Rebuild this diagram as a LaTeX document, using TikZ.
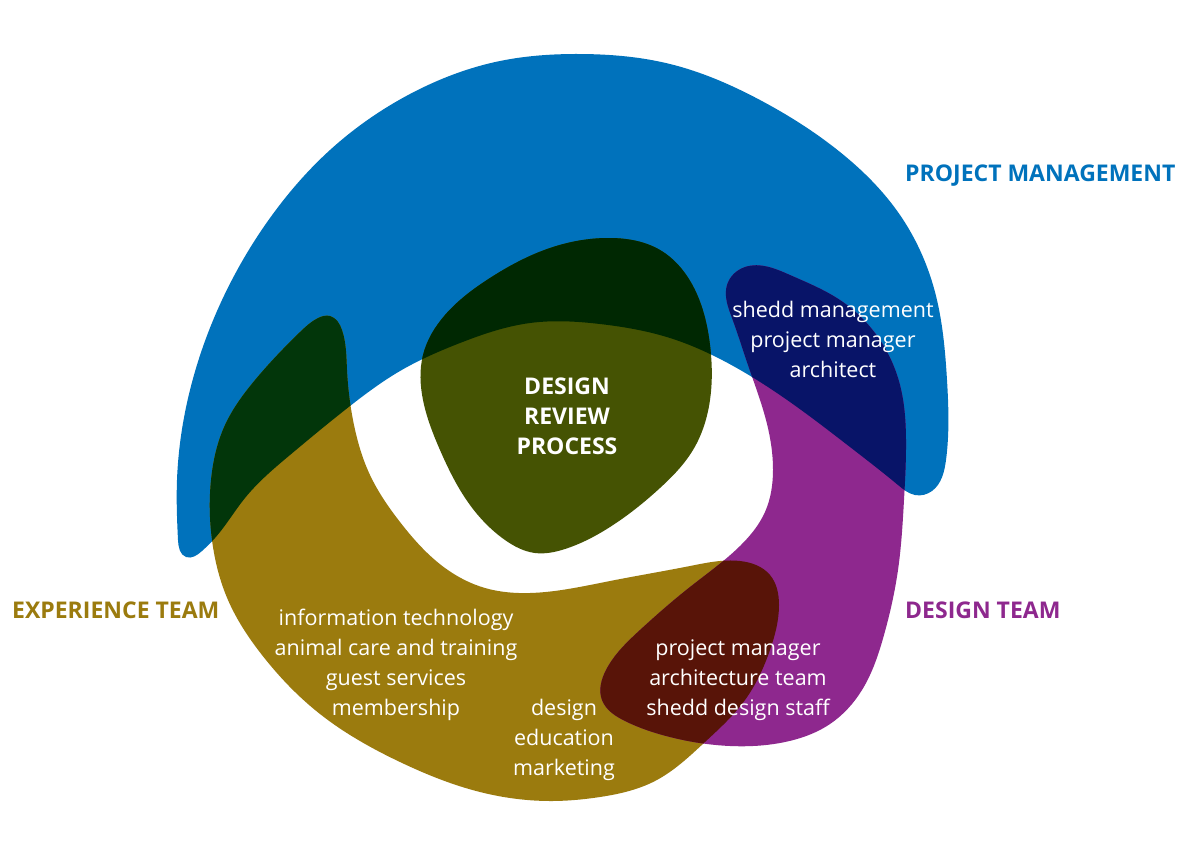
\documentclass[tikz,border=0pt]{standalone}
\usepackage{fontspec}
\setmainfont{Open Sans}
\usetikzlibrary{hobby}
\definecolor{pmblue}{RGB}{0,114,188}
\definecolor{exolive}{RGB}{155,123,14}
\definecolor{dspurple}{RGB}{142,40,142}
\definecolor{ctrgreen}{RGB}{69,83,3}
\definecolor{bcdark}{RGB}{0,40,2}
\definecolor{bodark}{RGB}{2,54,10}
\definecolor{bpnavy}{RGB}{8,20,104}
\definecolor{opred}{RGB}{88,20,8}
\tikzset{
  lbl/.style={font=\bfseries\fontsize{23}{30}\selectfont, inner sep=0pt},
  ctrtxt/.style={font=\bfseries\fontsize{23}{30}\selectfont, text=white, align=center, inner sep=0pt},
  bodytxt/.style={font=\fontsize{21.5}{30}\selectfont, text=white, align=center, inner sep=0pt},
  blob/.style={use Hobby shortcut, closed=true}
}
\begin{document}
\begin{tikzpicture}[x=1pt,y=-1pt]
\useasboundingbox (0,0) rectangle (1200,857);
\fill[white] (0,0) rectangle (1200,857);
\def\BlobB{(202,551) .. (186,557) .. (178,540) .. (177,480) .. (190,390) .. (222,300) .. (270,218) .. (330,150) .. (410,94) .. (500,61) .. (580,54) .. (670,64) .. (760,100) .. (840,152) .. (900,215) .. (935,292) .. (947,380) .. (946,460) .. (932,491) .. (915,495) .. (898,485) .. (850,447) .. (790,402) .. (735,367) .. (670,338) .. (600,324) .. (530,323) .. (460,343) .. (400,371) .. (350,406) .. (290,455) .. (245,498) .. (215,538)}
\def\BlobO{(330,316) .. (342,330) .. (347,370) .. (354,425) .. (370,475) .. (400,522) .. (445,568) .. (485,588) .. (530,593) .. (610,581) .. (690,566) .. (740,561) .. (770,575) .. (779,605) .. (770,650) .. (745,700) .. (705,742) .. (655,781) .. (600,797) .. (550,801) .. (480,792) .. (400,762) .. (320,714) .. (262,655) .. (228,600) .. (212,540) .. (211,480) .. (225,425) .. (255,380) .. (300,332) .. (318,318)}
\def\BlobP{(745,267) .. (790,275) .. (840,300) .. (880,340) .. (900,385) .. (906,440) .. (904,500) .. (898,570) .. (884,635) .. (862,690) .. (830,724) .. (785,742) .. (730,746) .. (670,737) .. (625,721) .. (602,700) .. (606,670) .. (640,630) .. (690,587) .. (740,546) .. (765,512) .. (773,470) .. (766,420) .. (748,365) .. (732,318) .. (727,285)}
\def\BlobC{(610,238) .. (660,250) .. (695,290) .. (710,345) .. (710,400) .. (693,450) .. (660,488) .. (610,527) .. (565,549) .. (535,553) .. (505,540) .. (470,505) .. (440,450) .. (423,400) .. (423,355) .. (445,315) .. (490,278) .. (550,248)}
\fill[pmblue, blob] \BlobB;
\fill[exolive, blob] \BlobO;
\fill[dspurple, blob] \BlobP;
\fill[ctrgreen, blob] \BlobC;
\begin{scope}
 \clip[blob] \BlobB;
 \fill[bodark, blob] \BlobO;
 \fill[bpnavy, blob] \BlobP;
 \fill[bcdark, blob] \BlobC;
\end{scope}
\begin{scope}
 \clip[blob] \BlobO;
 \fill[opred, blob] \BlobP;
\end{scope}
\node[lbl, text=pmblue, anchor=west] (pm) at (905,176) {PROJECT MANAGEMENT};
\node[lbl, text=exolive, anchor=west] (ex) at (12,610) {EXPERIENCE TEAM};
\node[lbl, text=dspurple, anchor=west] (dt) at (905,610) {DESIGN TEAM};
\node[ctrtxt] (drp) at (567,416) {DESIGN\\REVIEW\\PROCESS};
\node[bodytxt] (pmt) at (833,339) {shedd management\\project manager\\architect};
\node[bodytxt] (ext) at (396,665) {information technology\\animal care and training\\guest services\\membership};
\node[bodytxt] (ext2) at (564,740) {design\\education\\marketing};
\node[bodytxt] (dtt) at (738,680) {project manager\\architecture team\\shedd design staff};
\end{tikzpicture}
\end{document}
